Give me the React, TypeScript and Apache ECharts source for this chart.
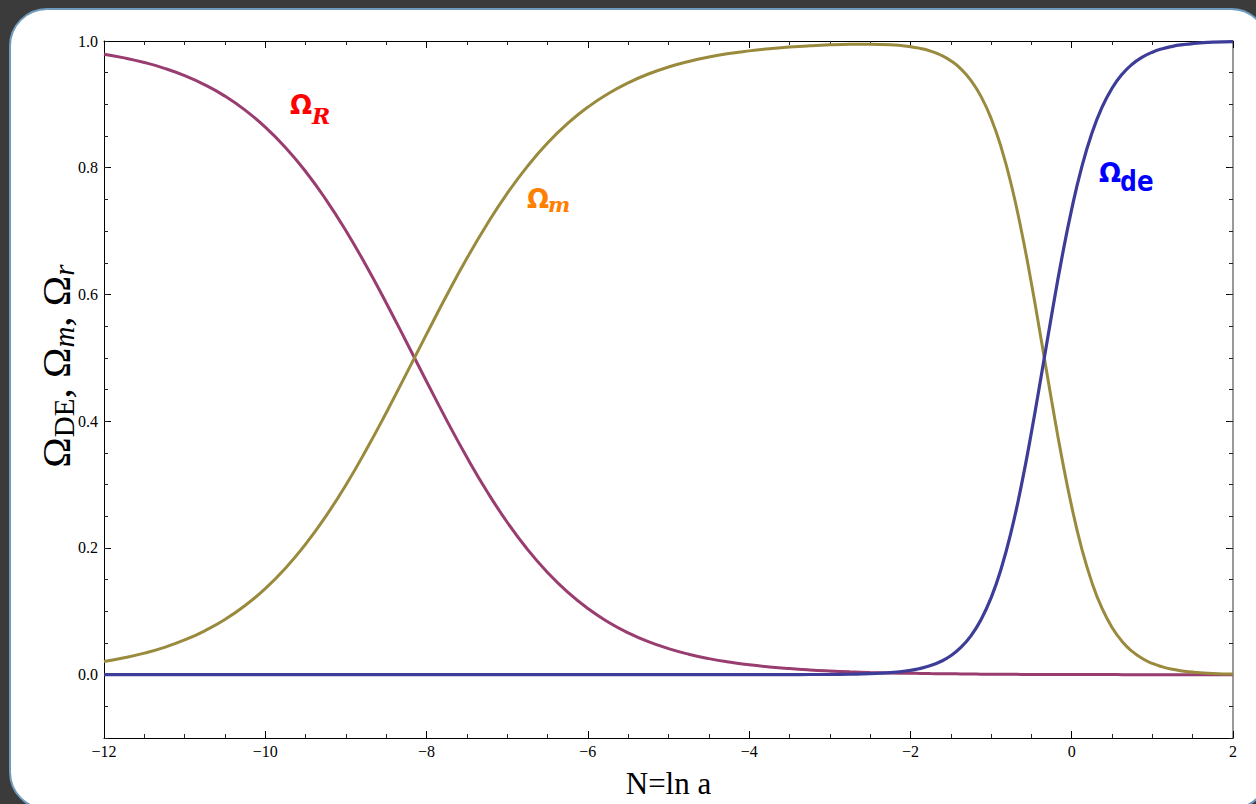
import React, { useEffect, useRef } from 'react';
import * as echarts from 'echarts';

// N = ln a sample points
const N = [
  -12, -11.75, -11.5, -11.25, -11, -10.75, -10.5, -10.25, -10, -9.75, -9.5, -9.25,
  -9, -8.75, -8.5, -8.25, -8, -7.75, -7.5, -7.25, -7, -6.75, -6.5, -6.25,
  -6, -5.75, -5.5, -5.25, -5, -4.75, -4.5, -4.25, -4, -3.75, -3.5, -3.25,
  -3, -2.75, -2.5, -2.25,
  -2, -1.875, -1.75, -1.625, -1.5, -1.375, -1.25, -1.125, -1, -0.875, -0.75, -0.625,
  -0.5, -0.375, -0.25, -0.125, 0, 0.125, 0.25, 0.375, 0.5, 0.625, 0.75, 0.875,
  1, 1.125, 1.25, 1.375, 1.5, 1.75, 2,
];

const omegaR = [
  0.9792, 0.9734, 0.9661, 0.9569, 0.9453, 0.9308, 0.913, 0.8909, 0.8641, 0.832, 0.7941, 0.7502,
  0.7006, 0.6456, 0.5866, 0.5249, 0.4626, 0.4013, 0.343, 0.2891, 0.2405, 0.1978, 0.1611, 0.1301,
  0.1043, 0.0832, 0.066, 0.0521, 0.0411, 0.0323, 0.0253, 0.0198, 0.0156, 0.0122, 0.0095, 0.0074,
  0.0058, 0.0045, 0.0035, 0.0027,
  0.0021, 0.0019, 0.0016, 0.0014, 0.0013, 0.0011, 0.0009, 0.0008, 0.0007, 0.0006, 0.0005, 0.0004,
  0.0003, 0.0002, 0.0002, 0.0001, 0.0001, 0.0001, 0.0001, 0.0001, 0.0001, 0, 0, 0,
  0, 0, 0, 0, 0, 0, 0,
];

const omegaM = [
  0.0208, 0.0266, 0.0339, 0.0431, 0.0547, 0.0692, 0.087, 0.1091, 0.1359, 0.168, 0.2059, 0.2498,
  0.2994, 0.3544, 0.4134, 0.4751, 0.5374, 0.5987, 0.657, 0.7109, 0.7595, 0.8022, 0.8389, 0.8699,
  0.8957, 0.9168, 0.934, 0.9479, 0.9589, 0.9677, 0.9747, 0.9802, 0.9844, 0.9878, 0.9904, 0.9924,
  0.9939, 0.9948, 0.995, 0.9941,
  0.9911, 0.9883, 0.9841, 0.9779, 0.9689, 0.9561, 0.9379, 0.9126, 0.8781, 0.8322, 0.7735, 0.7013,
  0.6177, 0.5261, 0.433, 0.3441, 0.2651, 0.1986, 0.1456, 0.1048, 0.0745, 0.0524, 0.0366, 0.0255,
  0.0176, 0.0122, 0.0084, 0.0058, 0.004, 0.0019, 0.0009,
];

const omegaDE = [
  0, 0, 0, 0, 0, 0, 0, 0, 0, 0, 0, 0,
  0, 0, 0, 0, 0, 0, 0, 0, 0, 0, 0, 0,
  0, 0, 0, 0, 0, 0, 0, 0, 0, 0, 0.0001, 0.0002,
  0.0003, 0.0007, 0.0015, 0.0032,
  0.0068, 0.0099, 0.0143, 0.0207, 0.0298, 0.0429, 0.0612, 0.0866, 0.1212, 0.1672, 0.226, 0.2983,
  0.382, 0.4737, 0.5669, 0.6558, 0.7348, 0.8014, 0.8544, 0.8952, 0.9255, 0.9476, 0.9634, 0.9745,
  0.9824, 0.9878, 0.9916, 0.9942, 0.996, 0.9981, 0.9991,
];

const xRange = [-12, 2];
const yRange = [-0.1, 1.0];

const COLORS = { r: '#993d71', m: '#998a3d', de: '#3d3d99' };
const SERIF = '"Liberation Serif", "Times New Roman", serif';
const SANS = '"DejaVu Sans", sans-serif';

function txt(text: string, x: number, y: number, color: string, fontSize: number, fontFamily: string, italic = false) {
  return {
    type: 'text',
    x,
    y,
    z: 10,
    style: {
      text,
      fill: color,
      fontSize,
      fontFamily,
      fontWeight: 'bold',
      fontStyle: italic ? 'italic' : 'normal',
      align: 'left',
      verticalAlign: 'middle',
    },
  };
}

export default function App() {
  const ref = useRef<HTMLDivElement>(null);

  useEffect(() => {
    if (!ref.current) return;
    const chart = echarts.init(ref.current, undefined, { renderer: 'svg' });
    const pairs = (ys: number[]) => N.map((x, i) => [x, ys[i]]);
    const fmtX = (v: number) => (v < 0 ? '\u2212' + Math.abs(v) : String(v));
    const fmtY = (v: number) => (v < -0.05 ? '' : v.toFixed(1));

    const baseX = {
      type: 'value',
      min: xRange[0],
      max: xRange[1],
      interval: 2,
      splitLine: { show: false },
      axisTick: { show: true, inside: true, length: 7, lineStyle: { color: '#000', width: 1 } },
      minorTick: { show: true, splitNumber: 4, length: 4, lineStyle: { color: '#222', width: 1 } },
    };
    const majorY = {
      type: 'value',
      min: yRange[0],
      max: yRange[1],
      splitLine: { show: false },
      axisTick: { show: true, inside: true, length: 7, lineStyle: { color: '#000', width: 1 } },
    };
    const minorY = {
      type: 'value',
      min: yRange[0],
      max: yRange[1],
      interval: 0.05,
      splitLine: { show: false },
      axisLine: { show: false, onZero: false },
      axisLabel: { show: false },
      axisTick: { show: true, inside: true, length: 4, lineStyle: { color: '#222', width: 1 } },
    };

    chart.setOption({
      animation: false,
      backgroundColor: 'transparent',
      grid: { left: 104, right: 23, top: 41, bottom: 66, containLabel: false, outerBoundsMode: 'none' },
      xAxis: [
        {
          ...baseX,
          position: 'bottom',
          axisLine: { show: true, onZero: false, lineStyle: { color: '#000', width: 1 } },
          axisLabel: { show: true, margin: 5, formatter: fmtX, color: '#000', fontFamily: SERIF, fontSize: 16 },
          name: 'N=ln a',
          nameLocation: 'middle',
          nameGap: 30,
          nameTextStyle: { color: '#000', fontFamily: SERIF, fontSize: 31 },
        },
        {
          ...baseX,
          position: 'top',
          axisLine: { show: true, onZero: false, lineStyle: { color: '#000', width: 1 } },
          axisLabel: { show: false },
        },
      ],
      yAxis: [
        {
          ...majorY,
          position: 'left',
          axisLine: { show: true, onZero: false, lineStyle: { color: '#000', width: 1 } },
          axisLabel: { show: true, margin: 6, formatter: fmtY, color: '#000', fontFamily: SERIF, fontSize: 16 },
        },
        { ...minorY, position: 'left' },
        {
          ...majorY,
          position: 'right',
          axisLine: { show: true, onZero: false, lineStyle: { color: '#777', width: 1.5 } },
          axisLabel: { show: false },
        },
        { ...minorY, position: 'right' },
      ],
      series: [
        {
          name: '\u03A9r',
          type: 'line',
          data: pairs(omegaR),
          smooth: 0.5,
          showSymbol: false,
          lineStyle: { color: COLORS.r, width: 3 },
          z: 3,
        },
        {
          name: '\u03A9m',
          type: 'line',
          data: pairs(omegaM),
          smooth: 0.5,
          showSymbol: false,
          lineStyle: { color: COLORS.m, width: 3 },
          z: 4,
        },
        {
          name: '\u03A9de',
          type: 'line',
          data: pairs(omegaDE),
          smooth: 0.5,
          showSymbol: false,
          lineStyle: { color: COLORS.de, width: 3.2 },
          z: 5,
        },
      ],
      graphic: [
        {
          type: 'text',
          x: 56,
          y: 366,
          rotation: Math.PI / 2,
          z: 10,
          style: {
            text: '{o|\u03A9}{s|DE}{o|, \u03A9}{si|m}{o|, \u03A9}{si|r}',
            align: 'center',
            verticalAlign: 'middle',
            rich: {
              o: { fontSize: 41, fontFamily: SERIF, fill: '#000', lineHeight: 44 },
              s: { fontSize: 29, fontFamily: SERIF, fill: '#000', lineHeight: 29, verticalAlign: 'bottom' },
              si: { fontSize: 29, fontFamily: SERIF, fontStyle: 'italic', fill: '#000', lineHeight: 29, verticalAlign: 'bottom' },
            },
          },
        },
        txt('\u03A9', 290, 105, '#ff0000', 26, SANS),
        txt('R', 312, 116, '#ff0000', 22, '"DejaVu Serif", serif', true),
        txt('\u03A9', 527, 199, '#ff7f00', 26, SANS),
        txt('m', 548, 204, '#ff7f00', 21, '"DejaVu Serif", serif', true),
        txt('\u03A9', 1099, 173, '#0000ff', 26, SANS),
        txt('de', 1120, 181, '#0000ff', 28, '"DejaVu Sans Mono", monospace'),
      ],
    });
    return () => chart.dispose();
  }, []);

  return (
    <div
      style={{
        position: 'fixed',
        left: 0,
        top: 0,
        width: 1256,
        height: 804,
        overflow: 'hidden',
        background: '#3b3b3b',
      }}
    >
      <div
        style={{
          position: 'absolute',
          left: 9,
          top: 8,
          width: 1260,
          height: 802,
          background: '#ffffff',
          border: '2px solid #6f9bbd',
          borderRadius: 38,
          boxSizing: 'border-box',
        }}
      />
      <div ref={ref} style={{ position: 'absolute', left: 0, top: 0, width: 1256, height: 804 }} />
    </div>
  );
}
